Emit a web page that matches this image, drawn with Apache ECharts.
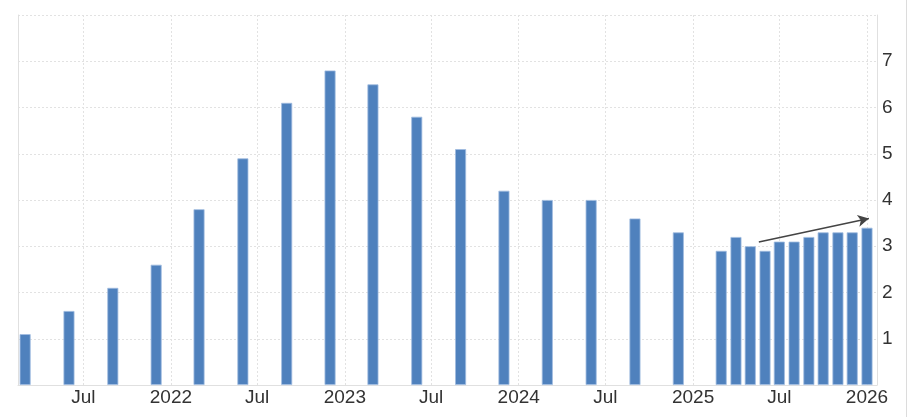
<!DOCTYPE html>
<html>
<head>
<meta charset="utf-8">
<script src="https://cdn.jsdelivr.net/npm/echarts@6/dist/echarts.min.js"></script>
<style>
  html, body { margin: 0; padding: 0; background: #fff; }
  #chart { width: 906px; height: 417px; border-right: 1px solid #dcdcdc; }
</style>
</head>
<body>
<div id="chart"></div>
<script>
// Data
const dates = [
  '2021-03-01','2021-06-01','2021-09-01','2021-12-01',
  '2022-03-01','2022-06-01','2022-09-01','2022-12-01',
  '2023-03-01','2023-06-01','2023-09-01','2023-12-01',
  '2024-03-01','2024-06-01','2024-09-01','2024-12-01',
  '2025-03-01','2025-04-01','2025-05-01','2025-06-01','2025-07-01','2025-08-01',
  '2025-09-01','2025-10-01','2025-11-01','2025-12-01','2026-01-01'
];
const values = [
  1.1, 1.6, 2.1, 2.6,
  3.8, 4.9, 6.1, 6.8,
  6.5, 5.8, 5.1, 4.2,
  4.0, 4.0, 3.6, 3.3,
  2.9, 3.2, 3.0, 2.9, 3.1, 3.1,
  3.2, 3.3, 3.3, 3.3, 3.4
];
const xTickDates = ['2021-07-01','2022-01-01','2022-07-01','2023-01-01','2023-07-01',
                    '2024-01-01','2024-07-01','2025-01-01','2025-07-01','2026-01-01'];
const yTicks = [1, 2, 3, 4, 5, 6, 7];
const xMin = '2021-02-14';
const xMax = '2026-01-22';
const trendStart = ['2025-05-19', 3.09];
const trendEnd = ['2026-01-05', 3.6];

const ts = d => Date.parse(d + 'T00:00:00Z');
const xTickValues = xTickDates.map(ts);
const chart = echarts.init(document.getElementById('chart'));
const font = 'Arial, "Liberation Sans", sans-serif';

chart.setOption({
  animation: false,
  grid: { left: 18, right: 29, top: 15, bottom: 32, containLabel: false },
  xAxis: {
    type: 'value',
    min: ts(xMin),
    max: ts(xMax),
    axisLine: { show: true, onZero: false, lineStyle: { color: '#e0e0e0', width: 1 } },
    axisTick: { show: false, customValues: xTickValues },
    splitLine: { show: true, lineStyle: { color: '#e2e2e2', type: [2, 2], width: 1 } },
    axisLabel: {
      customValues: xTickValues,
      showMinLabel: true, showMaxLabel: true,
      color: '#333',
      fontSize: 19,
      fontFamily: font,
      margin: 3,
      formatter: function (v) {
        const d = new Date(v);
        return d.getUTCMonth() === 0 ? String(d.getUTCFullYear()) : 'Jul';
      }
    }
  },
  yAxis: [
    {
      type: 'value',
      position: 'right',
      min: 0, max: 8, interval: 1,
      axisLine: { show: true, lineStyle: { color: '#e0e0e0' } },
      axisTick: { show: false },
      splitLine: { show: true, lineStyle: { color: '#e2e2e2', type: [2, 2], width: 1 } },
      axisLabel: {
        color: '#333', fontSize: 19, fontFamily: font, margin: 5,
        formatter: function (v) { return yTicks.indexOf(v) >= 0 ? String(v) : ''; }
      }
    },
    {
      type: 'value',
      position: 'left',
      min: 0, max: 8, interval: 1,
      axisLine: { show: true, lineStyle: { color: '#e0e0e0' } },
      axisTick: { show: false },
      splitLine: { show: false },
      axisLabel: { show: false }
    }
  ],
  series: [{
    type: 'bar',
    yAxisIndex: 0,
    barWidth: 11,
    data: dates.map((d, i) => [ts(d), values[i]]),
    itemStyle: { color: '#4f81bd', borderColor: '#9fbbe0', borderWidth: 0.8 },
    markLine: {
      silent: true,
      symbol: ['none', 'arrow'],
      symbolSize: [9, 11],
      label: { show: false },
      lineStyle: { color: '#444', width: 1.6, type: 'solid' },
      data: [[{ coord: [ts(trendStart[0]), trendStart[1]] }, { coord: [ts(trendEnd[0]), trendEnd[1]] }]]
    }
  }]
});
</script>
</body>
</html>
